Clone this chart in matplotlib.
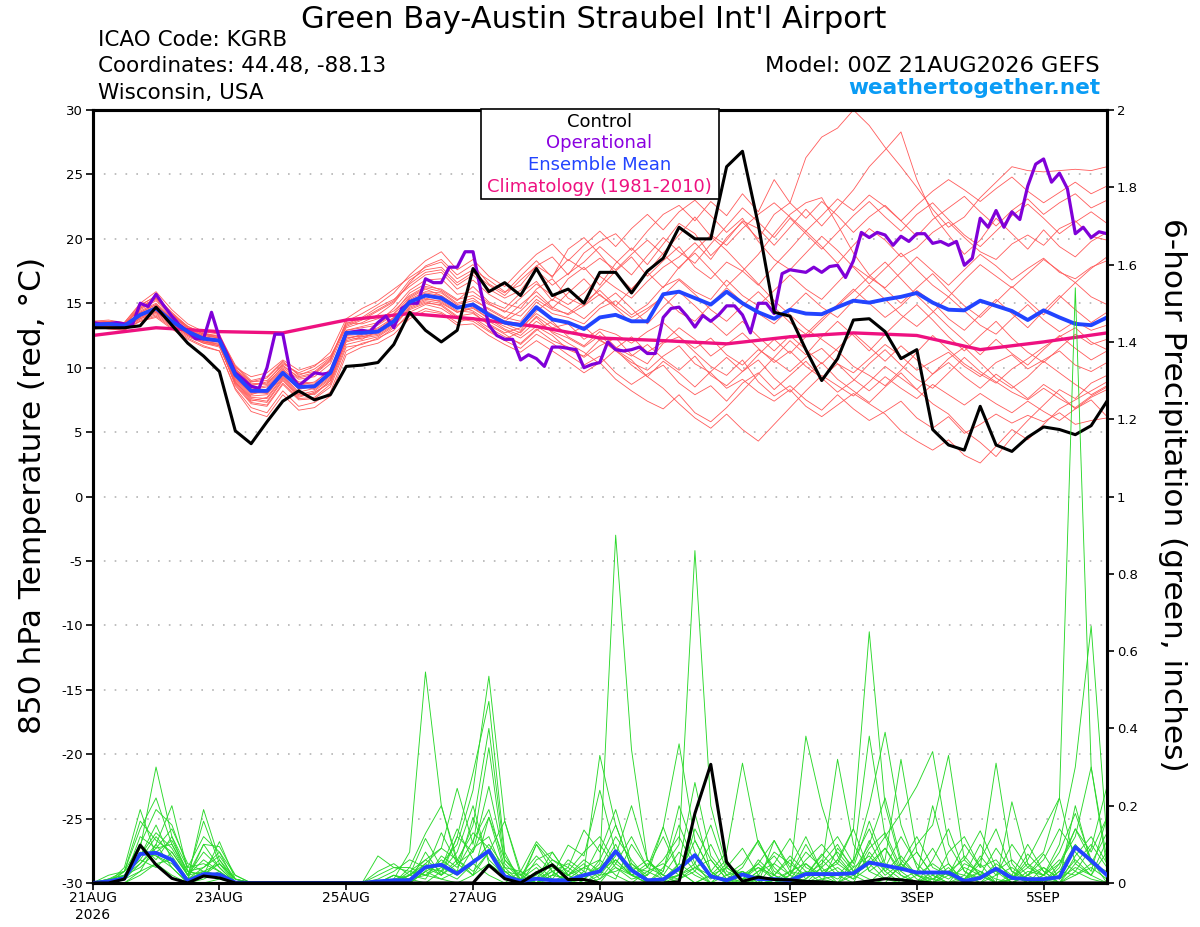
import numpy as np
import matplotlib
matplotlib.use("Agg")
import matplotlib.pyplot as plt
from matplotlib.patches import Rectangle

plt.rcParams['font.family'] = ['DejaVu Sans']

# forecast hours: members / control / mean every 6h, operational every 3h, climatology daily
hours6 = np.arange(0, 385, 6)
hours3 = np.arange(0, 385, 3)
hours24 = np.arange(0, 385, 24)

tick_hours = [0, 48, 96, 144, 192, 264, 312, 360]
tick_labels = ['21AUG\n2026', '23AUG', '25AUG', '27AUG', '29AUG', '1SEP', '3SEP', '5SEP']
temp_ticks = list(range(-30, 31, 5))
precip_ticks = [0, 0.2, 0.4, 0.6, 0.8, 1, 1.2, 1.4, 1.6, 1.8, 2]
precip_labels = ['0', '0.2', '0.4', '0.6', '0.8', '1', '1.2', '1.4', '1.6', '1.8', '2']

# ---- 850 hPa temperature (C) ----
control_t = [13.1, 13.1, 13.1, 13.25, 14.7, 13.3, 11.9, 10.9, 9.7,
             5.1, 4.1, 5.8, 7.4, 8.2, 7.5, 7.9,
             10.1, 10.2, 10.4, 11.8, 14.3, 12.9, 12.0, 12.9,
             17.7, 15.9, 16.6, 15.6, 17.7, 15.6, 16.1, 15.0,
             17.4, 17.4, 15.8, 17.5, 18.5, 20.9, 20.0, 20.0,
             25.6, 26.8, 21.1, 14.3, 14.0, 11.4, 9.0, 10.7,
             13.7, 13.8, 12.8, 10.7, 11.4, 5.2, 4.0, 3.6,
             7.0, 4.0, 3.5, 4.6, 5.4, 5.2, 4.8, 5.5, 7.4]

mean_t = [13.3, 13.4, 13.25, 14.1, 14.6, 13.6, 12.8, 12.25, 12.1,
          9.45, 8.2, 8.2, 9.6, 8.5, 8.55, 9.6,
          12.7, 12.7, 12.8, 13.6, 15.1, 15.6, 15.4, 14.65,
          14.9, 14.1, 13.5, 13.3, 14.7, 13.75, 13.5, 13.0,
          13.9, 14.1, 13.6, 13.6, 15.7, 15.9, 15.4, 14.9,
          15.9, 15.0, 14.3, 13.8, 14.5, 14.2, 14.15, 14.7,
          15.2, 15.05, 15.3, 15.5, 15.8, 15.05, 14.5, 14.45,
          15.2, 14.8, 14.4, 13.7, 14.45, 13.9, 13.4, 13.3, 13.9]

oper_t = [13.5, 13.4, 13.4, 13.5, 13.4, 13.3, 15.0, 14.75, 15.7, 14.8, 14.0, 13.3, 12.8,
          12.25, 12.25, 14.3, 12.3, 11.0, 9.6, 9.1, 8.55, 8.4, 10.0, 12.6, 12.6, 9.45,
          8.6, 9.1, 9.6, 9.5, 9.6, 11.0, 12.7, 12.8, 12.9, 12.8, 13.5, 14.0, 13.1,
          14.6, 15.0, 15.0, 16.9, 16.6, 16.6, 17.8, 17.8, 19.0, 19.0, 15.9, 13.3, 12.5, 12.2,
          12.2, 10.6, 11.0, 10.7, 10.1, 11.6, 11.6, 11.5, 11.4, 10.0, 10.25, 10.4, 12.0,
          11.4, 11.3, 11.4, 11.6, 11.1, 11.1, 13.9, 14.6, 14.7, 14.0, 13.15, 14.05, 13.6,
          14.1, 14.8, 14.8, 14.1, 12.7, 15.0, 15.0, 14.2,
          17.3, 17.6, 17.5, 17.4, 17.8, 17.4, 17.85, 17.95, 17.0, 18.3, 20.5, 20.1, 20.5,
          20.3, 19.5, 20.2, 19.8, 20.4, 20.4, 19.65, 19.8, 19.5, 19.8, 17.95, 18.5, 21.6,
          20.9, 22.2, 20.9, 22.1, 21.5, 24.1, 25.8, 26.2, 24.4, 25.1, 23.9, 20.4, 20.9,
          20.1, 20.55, 20.4]

clim_t = [12.5, 13.1, 12.8, 12.7, 13.7, 14.2, 13.8, 13.2, 12.3,
          12.1, 11.85, 12.4, 12.7, 12.5, 11.4, 12.0, 12.7]

# ensemble members (read roughly off the spaghetti)
mem_t01 = [13.5, 13.6, 13.4, 14.8, 15.6, 14.2, 13.0, 12.4, 12.0,
           9.8, 8.6, 8.9, 10.3, 9.6, 10.1, 11.2,
           13.8, 14.6, 15.2, 16.1, 17.0, 17.8, 18.2, 16.9,
           17.6, 16.8, 15.9, 16.4, 17.9, 18.6, 17.2, 18.9,
           19.8, 20.4, 19.1, 20.6, 21.9, 22.6, 21.4, 22.9,
           21.8, 23.5, 22.1, 24.6, 22.8, 26.3, 27.9, 28.6,
           30.0, 28.8, 27.1, 25.6, 24.0, 22.3, 20.9, 21.7,
           23.2, 24.4, 25.6, 25.3, 25.2, 25.3, 25.4, 25.3, 25.6]
mem_t02 = [13.1, 13.2, 13.0, 13.9, 14.3, 13.5, 12.6, 12.0, 11.7,
           8.9, 7.6, 7.4, 9.1, 7.8, 8.0, 9.0,
           12.2, 12.6, 13.4, 14.2, 15.8, 16.5, 16.0, 15.2,
           16.3, 15.1, 14.6, 15.8, 16.7, 15.2, 16.9, 17.8,
           16.4, 18.1, 19.3, 18.0, 19.6, 21.2, 20.4, 18.7,
           19.9, 21.4, 20.8, 19.5, 20.9, 22.3, 21.0, 22.4,
           23.8, 25.6, 26.9, 28.3, 24.6, 21.9, 20.3, 18.8,
           19.9, 21.6, 20.4, 19.2, 20.7, 19.4, 18.6, 19.8, 20.5]
mem_t03 = [13.2, 13.0, 12.9, 13.6, 14.0, 13.1, 12.3, 11.7, 11.3,
           8.4, 6.9, 6.5, 8.2, 7.0, 7.3, 8.1,
           11.3, 11.9, 12.2, 13.1, 14.0, 14.6, 14.3, 13.5,
           13.9, 13.1, 12.4, 11.9, 13.0, 12.1, 11.6, 10.8,
           11.7, 12.3, 11.0, 10.3, 11.9, 12.4, 11.2, 10.1,
           9.4, 10.6, 8.9, 7.8, 8.6, 7.5, 6.7, 7.9,
           6.8, 5.9, 6.6, 7.4, 6.1, 5.3, 6.2, 4.9,
           5.6, 6.4, 5.7, 6.3, 5.8, 6.5, 5.6, 5.9, 6.1]
mem_t04 = [13.4, 13.5, 13.3, 14.3, 14.9, 13.8, 13.0, 12.5, 12.3,
           9.7, 8.5, 8.0, 9.4, 8.7, 8.3, 9.2,
           12.4, 12.2, 12.9, 13.8, 15.4, 16.1, 15.6, 14.8,
           14.4, 13.6, 12.9, 12.3, 13.2, 12.5, 11.4, 10.9,
           12.2, 11.3, 10.4, 9.8, 10.9, 11.7, 10.3, 9.6,
           8.4, 9.1, 8.1, 7.4, 8.3, 7.0, 6.2, 7.1,
           8.0, 7.2, 6.4, 5.1, 4.3, 3.6, 4.4, 3.2,
           2.6, 3.9, 5.2, 4.4, 5.6, 6.8, 7.5, 8.2, 8.9]
mem_t05 = [13.3, 13.5, 13.4, 14.5, 15.2, 14.0, 13.1, 12.6, 12.5,
           10.2, 9.0, 9.3, 10.5, 9.4, 9.9, 10.8,
           13.4, 13.9, 14.7, 15.3, 16.3, 17.2, 17.4, 16.1,
           16.8, 15.7, 15.0, 14.6, 16.1, 16.9, 15.4, 14.8,
           16.2, 17.5, 18.6, 17.1, 18.3, 19.4, 17.8, 16.9,
           18.2, 17.5, 16.4, 17.9, 19.2, 20.6, 19.4, 18.1,
           19.5, 20.8, 19.9, 18.6, 19.3, 20.5, 21.3, 20.1,
           19.0, 18.4, 19.6, 20.3, 19.5, 20.8, 21.4, 20.2, 19.9]
mem_t06 = [13.0, 13.1, 12.9, 13.7, 14.1, 13.2, 12.4, 11.9, 11.6,
           8.8, 7.4, 7.7, 9.3, 8.0, 7.9, 9.0,
           12.0, 12.3, 12.5, 13.3, 14.7, 15.2, 15.0, 14.3,
           14.6, 13.8, 13.2, 12.7, 14.0, 13.1, 13.4, 12.2,
           13.0, 12.6, 11.9, 12.8, 13.5, 12.4, 11.5, 12.3,
           11.0, 10.2, 11.4, 10.6, 9.7, 10.8, 11.5, 10.3,
           9.6, 10.7, 11.8, 10.9, 9.8, 10.5, 11.2, 10.1,
           9.3, 10.4, 11.0, 9.9, 10.6, 11.3, 10.2, 9.7, 10.4]
mem_t07 = [13.6, 13.7, 13.5, 15.0, 15.9, 14.5, 13.4, 12.8, 12.6,
           10.0, 9.3, 9.6, 10.6, 9.8, 10.2, 10.9,
           13.1, 13.5, 14.1, 15.0, 16.6, 17.9, 18.4, 17.2,
           18.0, 16.5, 15.8, 17.1, 18.3, 17.0, 19.2, 20.1,
           18.8, 17.3, 16.1, 17.4, 18.9, 20.3, 21.7, 20.2,
           19.1, 17.8, 16.5, 15.2, 14.1, 13.0, 12.2, 11.3,
           10.1, 9.4, 8.6, 9.8, 11.2, 12.5, 11.4, 10.3,
           9.5, 8.8, 9.9, 10.7, 11.6, 12.4, 13.1, 12.0, 11.4]
mem_t08 = [13.2, 13.3, 13.1, 14.0, 14.4, 13.4, 12.6, 12.1, 11.8,
           8.6, 7.2, 7.0, 8.7, 7.5, 7.6, 8.5,
           11.6, 11.8, 12.3, 12.9, 14.3, 14.9, 14.6, 13.8,
           13.6, 12.8, 12.1, 11.5, 12.6, 11.9, 11.0, 10.2,
           10.9, 9.6, 8.7, 9.5, 10.2, 8.8, 7.9, 8.6,
           7.4, 8.8, 9.6, 8.3, 9.4, 10.5, 9.2, 8.1,
           9.0, 10.3, 11.4, 10.2, 9.1, 8.4, 9.6, 10.8,
           9.7, 8.9, 8.1, 7.5, 8.4, 7.6, 6.9, 7.8, 8.5]
mem_t09 = [13.5, 13.4, 13.2, 14.4, 15.0, 13.9, 12.9, 12.3, 12.2,
           9.6, 8.3, 8.5, 9.8, 8.9, 8.8, 9.9,
           12.9, 13.2, 13.5, 14.6, 16.0, 16.8, 16.9, 15.7,
           15.9, 15.0, 14.3, 15.4, 16.5, 15.6, 14.9, 15.8,
           17.1, 16.2, 15.4, 16.7, 17.8, 18.6, 19.7, 18.4,
           20.1, 21.3, 20.0, 21.9, 22.8, 21.6, 22.9, 21.8,
           20.5, 21.7, 22.6, 21.4, 20.2, 21.5, 22.4, 23.3,
           22.1, 21.0, 22.2, 23.1, 21.9, 22.8, 23.5, 22.4, 23.0]
mem_t10 = [13.3, 13.4, 13.2, 14.2, 14.7, 13.7, 12.9, 12.4, 12.2,
           9.3, 8.0, 8.1, 9.6, 8.3, 8.6, 9.7,
           12.8, 12.9, 12.9, 13.9, 15.3, 15.9, 15.8, 14.9,
           15.2, 14.6, 13.9, 13.6, 15.1, 14.2, 13.9, 13.4,
           14.6, 15.2, 14.1, 14.9, 16.3, 16.9, 15.9, 15.3,
           16.8, 15.6, 14.8, 16.0, 17.2, 16.1, 15.3, 16.6,
           17.9, 17.0, 16.2, 17.4, 18.6, 17.5, 16.4, 17.6,
           18.8, 17.9, 16.8, 17.7, 18.5, 17.4, 16.9, 17.8, 18.3]
mem_t11 = [13.4, 13.3, 13.1, 14.1, 14.5, 13.6, 12.8, 12.2, 12.0,
           9.1, 7.8, 7.9, 9.4, 8.1, 8.4, 9.3,
           12.5, 12.4, 12.6, 13.4, 14.9, 15.4, 15.1, 14.3,
           14.7, 13.8, 13.0, 12.5, 13.6, 12.8, 12.3, 11.6,
           12.5, 11.4, 10.6, 9.3, 8.4, 7.2, 6.1, 5.3,
           6.4, 5.2, 4.3, 5.6, 6.9, 8.2, 9.4, 8.6,
           7.8, 8.9, 10.1, 9.2, 8.3, 9.5, 10.7, 11.6,
           10.4, 9.2, 8.4, 9.3, 10.5, 9.6, 8.7, 7.9, 8.6]
mem_t12 = [13.2, 13.3, 13.2, 14.0, 14.6, 13.6, 12.7, 12.1, 12.0,
           9.5, 8.4, 8.6, 9.9, 8.8, 8.7, 9.6,
           12.6, 12.8, 13.0, 13.7, 15.0, 15.7, 15.5, 14.6,
           15.0, 14.3, 13.6, 14.4, 15.6, 14.6, 15.8, 16.9,
           15.6, 14.8, 16.1, 17.4, 16.2, 17.8, 18.9, 17.6,
           16.3, 17.5, 18.8, 20.4, 21.9, 22.8, 23.2, 21.1,
           18.9, 17.2, 16.1, 15.0, 16.2, 17.3, 16.0, 14.8,
           13.9, 15.1, 16.3, 15.2, 14.1, 15.4, 16.6, 15.5, 14.9]
mem_t13 = [13.1, 13.2, 13.0, 13.8, 14.2, 13.3, 12.5, 11.9, 11.7,
           8.9, 7.5, 7.3, 9.0, 7.7, 8.1, 8.8,
           12.1, 12.4, 12.7, 13.5, 14.5, 15.0, 14.9, 14.0,
           14.2, 13.4, 12.7, 13.1, 14.2, 13.4, 12.6, 13.2,
           12.1, 11.5, 12.4, 11.2, 12.0, 13.1, 12.2, 10.9,
           11.8, 12.7, 11.5, 10.4, 11.3, 10.1, 9.2, 10.3,
           9.1, 8.2, 9.3, 8.4, 7.6, 8.7, 7.9, 7.1,
           8.0, 7.2, 6.5, 7.4, 6.6, 5.9, 6.8, 7.5, 6.2]
mem_t14 = [13.6, 13.6, 13.5, 14.9, 15.5, 14.3, 13.2, 12.6, 12.4,
           10.1, 8.9, 9.0, 10.2, 9.2, 9.5, 10.5,
           13.5, 13.4, 13.8, 14.4, 15.6, 16.3, 16.1, 15.3,
           15.6, 14.9, 14.4, 14.0, 15.3, 14.5, 14.2, 15.1,
           16.0, 14.8, 13.9, 14.6, 15.5, 14.3, 13.6, 14.9,
           16.2, 15.1, 14.2, 13.4, 14.6, 15.8, 14.7, 13.9,
           15.2, 16.4, 15.3, 14.1, 13.2, 14.3, 15.5, 14.4,
           13.3, 12.6, 13.8, 14.9, 13.7, 12.8, 13.6, 12.9, 13.3]
mem_t15 = [13.4, 13.5, 13.3, 14.6, 15.3, 14.1, 13.2, 12.6, 12.3,
           9.9, 8.7, 8.8, 10.0, 9.1, 9.3, 10.3,
           13.2, 13.7, 14.4, 15.1, 16.5, 17.4, 17.6, 16.4,
           17.2, 16.1, 15.4, 16.0, 17.6, 16.4, 17.3, 18.2,
           19.4, 18.3, 17.2, 18.7, 20.1, 19.0, 18.1, 19.6,
           21.0, 22.4, 21.3, 20.1, 21.6, 20.4, 19.2, 20.5,
           21.8, 22.9, 21.7, 20.6, 21.9, 22.8, 21.5, 20.3,
           19.4, 20.6, 21.8, 22.7, 21.6, 20.4, 21.3, 22.1, 21.2]
mem_t16 = [13.0, 13.1, 13.0, 13.6, 13.9, 13.0, 12.2, 11.6, 11.3,
           8.3, 6.6, 6.2, 7.9, 6.7, 6.9, 7.8,
           11.0, 11.6, 11.9, 12.6, 13.8, 14.4, 14.2, 13.3,
           13.4, 12.5, 11.8, 11.2, 12.1, 11.3, 10.5, 9.6,
           10.4, 9.1, 8.2, 7.4, 6.8, 7.9, 6.5, 5.8,
           6.9, 8.2, 9.5, 10.8, 12.1, 11.0, 12.4, 13.6,
           12.5, 11.3, 12.6, 13.8, 14.9, 13.7, 12.4, 11.3,
           12.5, 13.6, 12.3, 11.2, 10.4, 11.5, 12.6, 11.8, 12.2]
mem_t17 = [13.3, 13.3, 13.2, 14.2, 14.8, 13.8, 12.9, 12.3, 12.1,
           9.2, 7.9, 8.3, 9.7, 8.6, 8.9, 9.8,
           12.9, 13.1, 13.3, 14.1, 15.5, 16.2, 15.9, 15.0,
           15.4, 14.5, 13.8, 14.9, 15.9, 14.7, 14.1, 14.8,
           15.7, 14.6, 13.5, 14.4, 15.6, 16.8, 15.7, 14.5,
           13.6, 14.8, 15.9, 14.7, 13.5, 12.6, 13.8, 14.9,
           16.1, 15.0, 13.9, 14.8, 16.0, 15.1, 13.8, 12.9,
           14.1, 15.3, 14.2, 13.1, 14.4, 15.6, 14.5, 13.5, 14.3]
mem_t18 = [13.4, 13.2, 13.1, 13.9, 14.4, 13.4, 12.6, 12.0, 11.9,
           9.0, 7.7, 7.6, 9.2, 7.9, 8.2, 9.1,
           12.3, 12.5, 12.8, 13.6, 14.8, 15.3, 15.2, 14.4,
           14.3, 13.3, 12.6, 11.8, 12.9, 13.6, 12.4, 11.7,
           12.8, 11.6, 10.9, 11.8, 10.7, 9.8, 10.9, 9.4,
           8.6, 9.7, 10.6, 9.2, 8.1, 9.3, 10.4, 9.1,
           8.2, 7.3, 8.5, 9.6, 8.3, 7.2, 6.4, 5.1,
           4.2, 3.1, 4.6, 5.9, 7.1, 8.3, 7.6, 8.8, 9.4]
mem_t19 = [13.5, 13.5, 13.3, 14.7, 15.4, 14.1, 13.1, 12.5, 12.3,
           9.8, 8.8, 8.7, 10.1, 9.3, 9.6, 10.6,
           13.6, 14.2, 14.9, 15.8, 17.2, 18.3, 19.0, 17.6,
           18.4, 17.1, 16.3, 17.6, 18.8, 19.6, 18.3, 19.5,
           20.6, 19.4, 20.8, 21.9, 20.7, 22.1, 23.0, 21.8,
           20.5, 21.6, 19.8, 18.4, 17.6, 18.9, 20.2, 19.1,
           17.8, 16.5, 17.7, 18.9, 17.6, 16.4, 15.5, 16.8,
           18.0, 17.1, 16.2, 17.3, 18.4, 17.5, 16.6, 17.7, 18.6]
mem_t20 = [13.2, 13.4, 13.3, 14.3, 14.9, 13.8, 12.9, 12.4, 12.1,
           9.4, 8.1, 8.0, 9.5, 8.4, 8.5, 9.4,
           12.6, 12.7, 13.1, 13.9, 15.2, 15.8, 15.6, 14.7,
           14.8, 14.0, 13.4, 12.9, 14.4, 15.3, 14.6, 13.8,
           14.9, 15.8, 14.6, 13.4, 14.7, 15.9, 14.8, 13.6,
           12.5, 13.6, 12.4, 11.3, 12.5, 11.4, 10.3, 11.5,
           12.7, 11.6, 10.5, 11.7, 10.6, 9.5, 10.4, 9.3,
           8.4, 9.5, 8.6, 7.6, 8.7, 7.9, 6.8, 7.7, 8.3]
mem_t21 = [13.4, 13.6, 13.4, 14.6, 15.4, 14.2, 13.2, 12.7, 12.4,
           9.9, 8.9, 9.2, 10.4, 9.5, 9.7, 10.7,
           13.3, 13.8, 14.5, 15.2, 16.8, 17.6, 17.8, 16.6,
           17.4, 16.4, 15.6, 16.8, 17.9, 17.1, 18.4, 17.6,
           18.5, 17.6, 18.8, 19.9, 18.8, 17.7, 19.1, 20.3,
           19.5, 20.8, 21.9, 22.8, 21.7, 20.6, 21.8, 23.1,
           22.2, 23.4, 22.5, 21.4, 22.6, 23.7, 24.6, 23.8,
           22.9, 23.9, 24.8, 23.7, 22.8, 23.6, 24.4, 23.5, 24.1]
mem_t22 = [13.1, 13.2, 13.1, 13.8, 14.3, 13.4, 12.5, 12.0, 11.8,
           8.7, 7.3, 7.1, 8.8, 7.6, 7.7, 8.7,
           11.8, 12.1, 12.4, 13.2, 14.6, 15.1, 14.8, 13.9,
           13.8, 12.9, 12.2, 12.8, 13.9, 12.7, 11.9, 11.2,
           10.3, 11.4, 10.2, 9.3, 10.5, 9.6, 8.5, 9.7,
           10.8, 9.7, 11.0, 12.2, 11.1, 12.4, 13.6, 14.8,
           15.9, 17.1, 18.2, 16.9, 15.6, 14.4, 13.2, 12.1,
           11.0, 12.2, 11.1, 10.2, 11.4, 12.5, 11.5, 10.6, 11.3]

temp_members = [mem_t01, mem_t02, mem_t03, mem_t04, mem_t05, mem_t06, mem_t07, mem_t08,
                mem_t09, mem_t10, mem_t11, mem_t12, mem_t13, mem_t14, mem_t15, mem_t16,
                mem_t17, mem_t18, mem_t19, mem_t20, mem_t21, mem_t22]

# ---- 6-hour precipitation (inches) ----
control_p = [0, 0, 0.01, 0.098, 0.047, 0.012, 0, 0.018, 0.013, 0,
             0, 0, 0, 0, 0, 0, 0, 0, 0, 0, 0, 0, 0, 0,
             0, 0.046, 0.011, 0, 0.026, 0.047, 0.009, 0.009,
             0, 0, 0, 0, 0,
             0.003, 0.18, 0.307, 0.054, 0.004, 0.015, 0.009, 0.008,
             0.004, 0.003, 0, 0, 0.005, 0.011, 0.008, 0.003,
             0, 0, 0, 0, 0, 0, 0, 0, 0, 0, 0, 0]

mean_p = [0, 0.004, 0.012, 0.075, 0.078, 0.06, 0.005, 0.023, 0.022, 0.001,
          0, 0, 0, 0, 0, 0, 0, 0,
          0.004, 0.007, 0.007, 0.041, 0.047, 0.024, 0.054, 0.083, 0.017, 0.005,
          0.011, 0.007, 0.007, 0.02, 0.03, 0.082, 0.033, 0.007, 0.009, 0.037,
          0.072, 0.017, 0.007, 0.022, 0.01, 0.01, 0.007, 0.023, 0.023, 0.023,
          0.025, 0.053, 0.045, 0.037, 0.027, 0.027, 0.027, 0.005, 0.013, 0.037,
          0.013, 0.01, 0.01, 0.015, 0.093, 0.058, 0.02]

mem_p01 = [0, 0, 0.02, 0.09, 0.30, 0.12, 0.02, 0.03, 0.05, 0.01,
           0, 0, 0, 0, 0, 0, 0, 0, 0,
           0.01, 0.08, 0.546, 0.2, 0.06, 0.03, 0.08, 0.02, 0, 0.01, 0.03, 0.0, 0.02,
           0.04, 0.12, 0.06, 0.01, 0.0, 0.05, 0.26, 0.07, 0.02, 0.05, 0.11, 0.03, 0.01,
           0.06, 0.1, 0.05, 0.14, 0.65, 0.2, 0.05, 0.02, 0.0, 0.03, 0.01, 0.05, 0.0,
           0.01, 0.06, 0.14, 0.22, 1.54, 0.3, 0.06]
mem_p02 = [0, 0, 0.04, 0.19, 0.07, 0.05, 0.01, 0.19, 0.06, 0.0,
           0, 0, 0, 0, 0, 0, 0, 0, 0,
           0, 0, 0.03, 0.05, 0.1, 0.24, 0.535, 0.16, 0.02, 0.0, 0.02, 0.04, 0.01,
           0.05, 0.90, 0.345, 0.06, 0.02, 0.01, 0.04, 0.02, 0.0, 0.03, 0.01, 0.0, 0.02,
           0.38, 0.2, 0.07, 0.02, 0.05, 0.09, 0.03, 0.0, 0.02, 0.05, 0.0, 0.01, 0.04,
           0.0, 0.03, 0.02, 0.1, 0.3, 0.665, 0.11]
mem_p03 = [0, 0, 0.01, 0.05, 0.1, 0.20, 0.03, 0.02, 0.107, 0.01,
           0, 0, 0, 0, 0, 0, 0, 0, 0,
           0.02, 0.01, 0.05, 0.02, 0.12, 0.285, 0.47, 0.08, 0.0, 0.03, 0.0, 0.02, 0.05,
           0.01, 0.04, 0.02, 0.0, 0.04, 0.1, 0.86, 0.2, 0.04, 0.01, 0.0, 0.02, 0.06,
           0.01, 0.04, 0.08, 0.03, 0.06, 0.12, 0.18, 0.25, 0.34, 0.1, 0.03, 0.0, 0.02,
           0.04, 0.01, 0.0, 0.05, 0.12, 0.30, 0.04]
mem_p04 = [0, 0.01, 0.03, 0.1, 0.19, 0.15, 0.04, 0.05, 0.03, 0.0,
           0, 0, 0, 0, 0, 0, 0, 0, 0,
           0.0, 0.02, 0.06, 0.09, 0.245, 0.1, 0.35, 0.05, 0.01, 0.0, 0.04, 0.02, 0.0,
           0.03, 0.06, 0.02, 0.04, 0.145, 0.36, 0.11, 0.03, 0.08, 0.31, 0.1, 0.04, 0.0,
           0.02, 0.07, 0.12, 0.05, 0.2, 0.39, 0.15, 0.04, 0.0, 0.02, 0.1, 0.04, 0.31,
           0.05, 0.0, 0.02, 0.05, 0.14, 0.08, 0.17]
mem_p05 = [0, 0, 0.03, 0.16, 0.11, 0.08, 0.02, 0.1, 0.094, 0.02,
           0, 0, 0, 0, 0, 0, 0, 0, 0,
           0.0, 0.04, 0.128, 0.2, 0.05, 0.02, 0.17, 0.03, 0.0, 0.1, 0.05, 0.0, 0.03,
           0.33, 0.15, 0.04, 0.0, 0.01, 0.05, 0.02, 0.0, 0.04, 0.01, 0.05, 0.11, 0.03,
           0.0, 0.04, 0.32, 0.1, 0.03, 0.06, 0.32, 0.08, 0.02, 0.0, 0.05, 0.03, 0.0,
           0.01, 0.04, 0.08, 0.22, 0.05, 0.02, 0.0]
mem_p06 = [0, 0, 0.02, 0.06, 0.12, 0.07, 0.01, 0.1, 0.04, 0.0,
           0, 0, 0, 0, 0, 0, 0, 0, 0.07,
           0.04, 0.03, 0.02, 0.06, 0.03, 0.05, 0.02, 0.0, 0.03, 0.107, 0.06, 0.04, 0.137,
           0.08, 0.19, 0.05, 0.02, 0.145, 0.03, 0.0, 0.02, 0.01, 0.04, 0.11, 0.02, 0.0,
           0.05, 0.02, 0.0, 0.06, 0.38, 0.12, 0.03, 0.1, 0.15, 0.33, 0.06, 0.02, 0.0,
           0.21, 0.05, 0.0, 0.03, 0.02, 0.05, 0.03]
mem_p07 = [0, 0, 0.01, 0.12, 0.09, 0.1, 0.03, 0.02, 0.06, 0.01,
           0, 0, 0, 0, 0, 0, 0, 0, 0.02,
           0.04, 0.04, 0.02, 0.01, 0.03, 0.17, 0.06, 0.02, 0.01, 0.0, 0.02, 0.098, 0.07,
           0.24, 0.08, 0.02, 0.05, 0.03, 0.15, 0.05, 0.0, 0.02, 0.03, 0.0, 0.11, 0.04,
           0.12, 0.03, 0.01, 0.04, 0.07, 0.02, 0.05, 0.01, 0.0, 0.03, 0.06, 0.135, 0.04,
           0.0, 0.02, 0.075, 0.01, 0.04, 0.02, 0.11]
mem_p08 = [0, 0.01, 0.02, 0.05, 0.09, 0.14, 0.05, 0.03, 0.02, 0.0,
           0, 0, 0, 0, 0, 0, 0, 0, 0,
           0.01, 0.02, 0.115, 0.04, 0.14, 0.06, 0.08, 0.16, 0.03, 0.01, 0.08, 0.02, 0.0,
           0.02, 0.03, 0.05, 0.01, 0.0, 0.02, 0.04, 0.06, 0.01, 0.0, 0.03, 0.05, 0.115,
           0.04, 0.02, 0.06, 0.14, 0.03, 0.01, 0.04, 0.08, 0.02, 0.0, 0.01, 0.06, 0.14,
           0.03, 0.01, 0.0, 0.04, 0.14, 0.06, 0.02]
mem_p09 = [0, 0, 0.01, 0.08, 0.07, 0.04, 0.0, 0.01, 0.03, 0.0,
           0, 0, 0, 0, 0, 0, 0, 0, 0,
           0.0, 0.02, 0.04, 0.03, 0.01, 0.05, 0.1, 0.04, 0.03, 0.0, 0.02, 0.01, 0.04,
           0.06, 0.15, 0.04, 0.03, 0.01, 0.02, 0.11, 0.03, 0.0, 0.02, 0.04, 0.01, 0.03,
           0.02, 0.075, 0.03, 0.01, 0.04, 0.09, 0.02, 0.0, 0.03, 0.01, 0.04, 0.02, 0.0,
           0.01, 0.075, 0.03, 0.0, 0.05, 0.1, 0.04]
mem_p10 = [0, 0.02, 0.03, 0.07, 0.15, 0.06, 0.01, 0.04, 0.08, 0.0,
           0, 0, 0, 0, 0, 0, 0, 0, 0,
           0.02, 0.0, 0.03, 0.13, 0.05, 0.08, 0.17, 0.06, 0.01, 0.1, 0.03, 0.0, 0.02,
           0.1, 0.04, 0.01, 0.02, 0.06, 0.12, 0.04, 0.01, 0.05, 0.02, 0.01, 0.0, 0.03,
           0.05, 0.01, 0.02, 0.06, 0.14, 0.04, 0.01, 0.03, 0.09, 0.02, 0.0, 0.03, 0.01,
           0.0, 0.02, 0.06, 0.14, 0.08, 0.03, 0.17]
mem_p11 = [0, 0, 0.02, 0.06, 0.04, 0.08, 0.02, 0.16, 0.05, 0.01,
           0, 0, 0, 0, 0, 0, 0, 0, 0,
           0.02, 0.01, 0.0, 0.03, 0.08, 0.2, 0.05, 0.02, 0.0, 0.01, 0.05, 0.02, 0.06,
           0.03, 0.01, 0.1, 0.04, 0.12, 0.03, 0.0, 0.02, 0.04, 0.09, 0.02, 0.0, 0.01,
           0.03, 0.02, 0.06, 0.02, 0.0, 0.04, 0.12, 0.05, 0.01, 0.03, 0.02, 0.1, 0.03,
           0.0, 0.02, 0.04, 0.01, 0.2, 0.05, 0.02]
mem_p12 = [0, 0, 0.0, 0.03, 0.05, 0.02, 0.0, 0.0, 0.01, 0.0,
           0, 0, 0, 0, 0, 0, 0, 0, 0,
           0.0, 0.0, 0.03, 0.01, 0.0, 0.02, 0.05, 0.01, 0.0, 0.0, 0.01, 0.0, 0.0,
           0.01, 0.06, 0.02, 0.0, 0.0, 0.01, 0.03, 0.0, 0.0, 0.0, 0.01, 0.0, 0.02,
           0.0, 0.01, 0.0, 0.02, 0.05, 0.01, 0.0, 0.0, 0.01, 0.0, 0.02, 0.0, 0.04,
           0.0, 0.0, 0.01, 0.0, 0.02, 0.04, 0.01]
mem_p13 = [0, 0, 0.02, 0.07, 0.13, 0.09, 0.02, 0.06, 0.03, 0.0,
           0, 0, 0, 0, 0, 0, 0, 0, 0,
           0.0, 0.03, 0.06, 0.03, 0.12, 0.08, 0.25, 0.06, 0.02, 0.05, 0.01, 0.06, 0.03,
           0.0, 0.05, 0.12, 0.04, 0.02, 0.08, 0.03, 0.1, 0.02, 0.0, 0.06, 0.02, 0.07,
           0.03, 0.0, 0.09, 0.04, 0.16, 0.05, 0.02, 0.0, 0.06, 0.14, 0.03, 0.01, 0.05,
           0.02, 0.1, 0.03, 0.0, 0.07, 0.12, 0.05]
mem_p14 = [0, 0.01, 0.02, 0.04, 0.08, 0.11, 0.03, 0.04, 0.07, 0.01,
           0, 0, 0, 0, 0, 0, 0, 0, 0.03,
           0.05, 0.02, 0.01, 0.07, 0.04, 0.11, 0.19, 0.04, 0.0, 0.02, 0.06, 0.03, 0.01,
           0.04, 0.08, 0.03, 0.06, 0.02, 0.0, 0.14, 0.06, 0.01, 0.03, 0.0, 0.05, 0.02,
           0.08, 0.04, 0.0, 0.03, 0.1, 0.22, 0.06, 0.02, 0.01, 0.04, 0.0, 0.07, 0.02,
           0.1, 0.04, 0.02, 0.0, 0.03, 0.09, 0.25]
mem_p15 = [0, 0, 0.01, 0.1, 0.06, 0.12, 0.04, 0.12, 0.08, 0.02,
           0, 0, 0, 0, 0, 0, 0, 0, 0,
           0.01, 0.0, 0.08, 0.02, 0.06, 0.13, 0.09, 0.03, 0.02, 0.07, 0.03, 0.0, 0.01,
           0.06, 0.02, 0.0, 0.03, 0.05, 0.02, 0.18, 0.03, 0.0, 0.01, 0.02, 0.08, 0.05,
           0.02, 0.05, 0.1, 0.03, 0.01, 0.0, 0.05, 0.12, 0.04, 0.02, 0.07, 0.02, 0.09,
           0.03, 0.0, 0.02, 0.06, 0.03, 0.01, 0.0]
mem_p16 = [0, 0, 0.0, 0.02, 0.05, 0.06, 0.01, 0.03, 0.02, 0.0,
           0, 0, 0, 0, 0, 0, 0, 0, 0,
           0.0, 0.01, 0.02, 0.04, 0.02, 0.09, 0.12, 0.02, 0.01, 0.0, 0.03, 0.05, 0.02,
           0.03, 0.1, 0.02, 0.01, 0.0, 0.04, 0.07, 0.02, 0.01, 0.02, 0.05, 0.01, 0.0,
           0.0, 0.02, 0.04, 0.01, 0.11, 0.03, 0.0, 0.02, 0.05, 0.02, 0.01, 0.03, 0.0,
           0.02, 0.0, 0.04, 0.01, 0.06, 0.02, 0.08]
mem_p17 = [0, 0, 0.03, 0.14, 0.22, 0.1, 0.02, 0.08, 0.04, 0.0,
           0, 0, 0, 0, 0, 0, 0, 0, 0.01,
           0.03, 0.06, 0.04, 0.02, 0.05, 0.15, 0.4, 0.07, 0.01, 0.04, 0.0, 0.03, 0.08,
           0.12, 0.05, 0.02, 0.0, 0.03, 0.2, 0.08, 0.02, 0.06, 0.0, 0.03, 0.07, 0.02,
           0.1, 0.03, 0.05, 0.02, 0.09, 0.13, 0.04, 0.02, 0.0, 0.08, 0.12, 0.04, 0.06,
           0.01, 0.05, 0.02, 0.08, 0.18, 0.06, 0.0]
mem_p18 = [0, 0, 0.01, 0.03, 0.1, 0.04, 0.0, 0.02, 0.05, 0.0,
           0, 0, 0, 0, 0, 0, 0, 0, 0,
           0.0, 0.02, 0.05, 0.09, 0.06, 0.02, 0.08, 0.03, 0.0, 0.06, 0.08, 0.02, 0.04,
           0.02, 0.07, 0.2, 0.06, 0.01, 0.02, 0.05, 0.15, 0.03, 0.01, 0.04, 0.02, 0.0,
           0.01, 0.06, 0.02, 0.0, 0.08, 0.03, 0.07, 0.02, 0.2, 0.05, 0.0, 0.02, 0.03,
           0.06, 0.02, 0.0, 0.03, 0.1, 0.05, 0.13]

precip_members = [mem_p01, mem_p02, mem_p03, mem_p04, mem_p05, mem_p06,
                  mem_p07, mem_p08, mem_p09, mem_p10, mem_p11, mem_p12,
                  mem_p13, mem_p14, mem_p15, mem_p16, mem_p17, mem_p18]

red = '#ff5a5a'
green = '#2ad82a'
purple = '#8000d8'
blue = '#2244ff'
magenta = '#ee1180'

fig = plt.figure(figsize=(12, 9.27), dpi=100)
ax = fig.add_axes([0.0772, 0.0475, 0.8453, 0.8338])
ax2 = ax.twinx()

for y in temp_ticks[1:-1]:
    ax.axhline(y, color='#b4b4b4', lw=1.2, ls=(0, (1, 5.5)), zorder=0.5)

for m in temp_members:
    ax.plot(hours6, m, color=red, lw=0.6, zorder=2)
ax.plot(hours24, clim_t, color=magenta, lw=2.4, zorder=3)
ax.plot(hours3, oper_t, color=purple, lw=2.3, zorder=4)
ax.plot(hours6, mean_t, color=blue, lw=2.8, zorder=5)
ax.plot(hours6, control_t, color='black', lw=2.2, zorder=6)

for m in precip_members:
    ax2.plot(hours6, m, color=green, lw=0.65, zorder=2)
ax2.plot(hours6, mean_p, color=blue, lw=2.8, zorder=5)
ax2.plot(hours6, control_p, color='black', lw=2.2, zorder=6)

ax.set_xlim(0, 384)
ax.set_ylim(-30, 30)
ax2.set_ylim(0, 2)
ax.set_yticks(temp_ticks)
ax.set_yticklabels([str(t) for t in temp_ticks])
ax2.set_yticks(precip_ticks)
ax2.set_yticklabels(precip_labels)
ax.set_xticks(tick_hours)
ax.set_xticklabels(tick_labels)

ax.tick_params(axis='y', direction='out', length=5, width=1.2, labelsize=9.5, pad=2)
ax2.tick_params(axis='y', direction='out', length=5, width=1.2, labelsize=9.5, pad=2)
ax.tick_params(axis='x', direction='out', length=5, width=1.2, labelsize=10, pad=1)

for a in (ax, ax2):
    for s in a.spines.values():
        s.set_linewidth(2.2)

# header texts
fig.text(0.495, 1 - 28.5 / 927, "Green Bay-Austin Straubel Int'l Airport",
         ha='center', va='baseline', fontsize=22)
fig.text(98 / 1200, 1 - 45.7 / 927, 'ICAO Code: KGRB', ha='left', va='baseline', fontsize=15.5)
fig.text(98 / 1200, 1 - 72 / 927, 'Coordinates: 44.48, -88.13', ha='left', va='baseline', fontsize=15.5)
fig.text(98 / 1200, 1 - 99.3 / 927, 'Wisconsin, USA', ha='left', va='baseline', fontsize=15.5)
fig.text(1100 / 1200, 1 - 71.5 / 927, 'Model: 00Z 21AUG2026 GEFS', ha='right', va='baseline',
         fontsize=16.2)
fig.text(1100 / 1200, 1 - 94 / 927, 'weathertogether.net', ha='right', va='baseline',
         fontsize=15.6, fontweight='bold', color='#0a9cf5')

# axis titles
fig.text(33 / 1200, 1 - 495 / 927, '850 hPa Temperature (red, °C)', rotation=90,
         ha='center', va='center', fontsize=22.5)
fig.text(1172 / 1200, 1 - 495 / 927, '6-hour Precipitation (green, inches)', rotation=270,
         ha='center', va='center', fontsize=22.5)

# legend box
fig.add_artist(Rectangle((480.7 / 1200, 1 - 198.7 / 927), 238 / 1200, 89.4 / 927,
                         transform=fig.transFigure, facecolor='white', edgecolor='black',
                         lw=1.2, zorder=10))
legend_items = [('Control', 'black', 127.3), ('Operational', '#8a00e0', 148.5),
                ('Ensemble Mean', blue, 170), ('Climatology (1981-2010)', magenta, 191.7)]
for label, col, yb in legend_items:
    fig.text(599.5 / 1200, 1 - yb / 927, label, ha='center', va='baseline',
             fontsize=13, color=col, zorder=11)

fig.savefig('out.png', dpi=100)
